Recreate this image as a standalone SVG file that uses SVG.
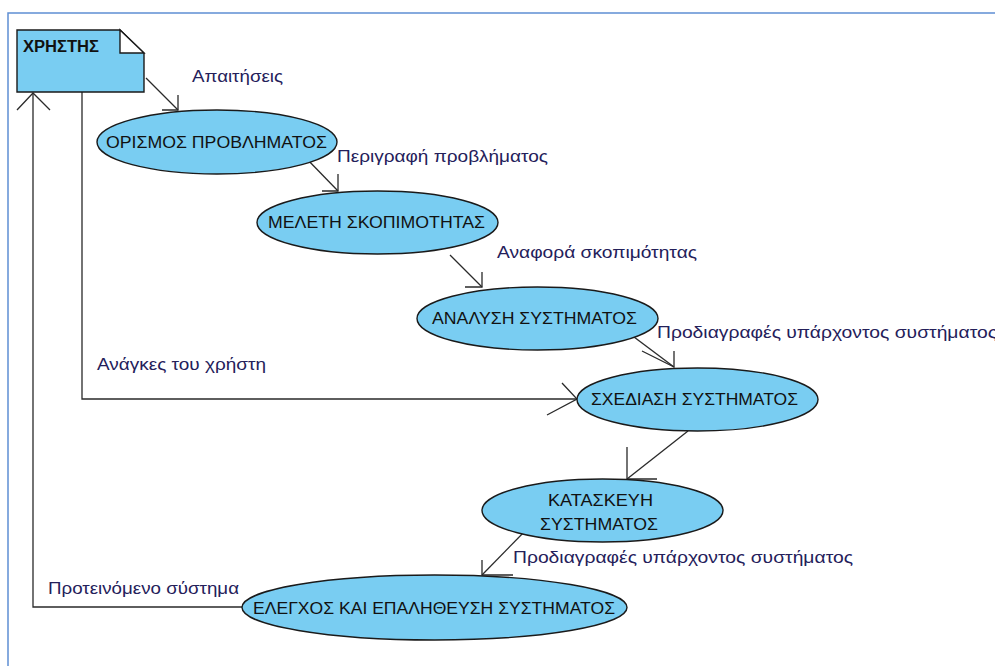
<svg xmlns="http://www.w3.org/2000/svg" width="995" height="666" viewBox="0 0 995 666">
<style>
.frame{fill:none;stroke:#5f8fd3;stroke-width:1.5}
.node{fill:#79cdf2;stroke:#1a1a1a;stroke-width:1.4}
.fold{fill:#ffffff;stroke:#1a1a1a;stroke-width:1.4}
.conn{fill:none;stroke:#2a2a2a;stroke-width:1.3}
.nt{font-family:"Liberation Sans",Arial,sans-serif;font-size:16px;fill:#111;text-anchor:middle}
.bt{font-family:"Liberation Sans",Arial,sans-serif;font-size:16px;font-weight:bold;fill:#111}
.lbl{font-family:"Liberation Sans",Arial,sans-serif;font-size:16px;fill:#24205a}
</style>
<rect width="995" height="666" fill="#ffffff"/>
<rect class="frame" x="8" y="13" width="1000" height="700"/>
<g id="connectors">
  <g id="c1"><path class="conn" d="M146,78 L178,110"/><path class="conn" d="M178,95 L178,110 L162,110"/></g>
  <g id="c2"><path class="conn" d="M305,157 L338,191"/><path class="conn" d="M338,174 L338,191 L322,191"/></g>
  <g id="c3"><path class="conn" d="M450,255 L482,287"/><path class="conn" d="M482,272 L482,287 L465,287"/></g>
  <g id="c4"><path class="conn" d="M630,334 L674,367"/><path class="conn" d="M674,351 L674,367 L642,351"/></g>
  <g id="c5"><path class="conn" d="M82,92 L82,399 L577,399"/><path class="conn" d="M562,383 L577,399 L547,415"/></g>
  <g id="c6"><path class="conn" d="M688,431 L627,479"/><path class="conn" d="M627,447 L627,479 L657,479"/></g>
  <g id="c7"><path class="conn" d="M528,528 L482,575"/><path class="conn" d="M482,560 L482,575 L513,575"/></g>
  <g id="c8"><path class="conn" d="M242,607 L33,607 L33,93"/><path class="conn" d="M17,110 L33,93 L50,110"/></g>
</g>
<g id="n-xristis">
  <path class="node" d="M17,30 L120,30 L144,53 L144,92 L17,92 Z"/>
  <path class="fold" d="M120,30 L120,53 L144,53 Z"/>
  <text class="bt" x="23" y="52" textLength="76" lengthAdjust="spacingAndGlyphs">ΧΡΗΣΤΗΣ</text>
</g>
<g id="n-orismos">
  <ellipse class="node" cx="217" cy="142" rx="120" ry="32"/>
  <text class="nt" x="216.5" y="148" textLength="221" lengthAdjust="spacingAndGlyphs">ΟΡΙΣΜΟΣ ΠΡΟΒΛΗΜΑΤΟΣ</text>
</g>
<g id="n-meleti">
  <ellipse class="node" cx="377.5" cy="222.5" rx="120.5" ry="31.5"/>
  <text class="nt" x="376.5" y="228" textLength="217" lengthAdjust="spacingAndGlyphs">ΜΕΛΕΤΗ ΣΚΟΠΙΜΟΤΗΤΑΣ</text>
</g>
<g id="n-analysi">
  <ellipse class="node" cx="537.5" cy="318.5" rx="120.5" ry="31.5"/>
  <text class="nt" x="534.5" y="324" textLength="205" lengthAdjust="spacingAndGlyphs">ΑΝΑΛΥΣΗ ΣΥΣΤΗΜΑΤΟΣ</text>
</g>
<g id="n-sxediasi">
  <ellipse class="node" cx="697.5" cy="399.5" rx="120.5" ry="31.5"/>
  <text class="nt" x="694.5" y="405" textLength="207" lengthAdjust="spacingAndGlyphs">ΣΧΕΔΙΑΣΗ ΣΥΣΤΗΜΑΤΟΣ</text>
</g>
<g id="n-kataskevi">
  <ellipse class="node" cx="602.5" cy="510.5" rx="120.5" ry="31.5"/>
  <text class="nt" x="600.5" y="506" textLength="105" lengthAdjust="spacingAndGlyphs">ΚΑΤΑΣΚΕΥΗ</text>
  <text class="nt" x="599" y="530" textLength="118" lengthAdjust="spacingAndGlyphs">ΣΥΣΤΗΜΑΤΟΣ</text>
</g>
<g id="n-elegxos">
  <ellipse class="node" cx="434.5" cy="607.5" rx="192.5" ry="32.5"/>
  <text class="nt" x="434" y="614" textLength="362" lengthAdjust="spacingAndGlyphs">ΕΛΕΓΧΟΣ ΚΑΙ ΕΠΑΛΗΘΕΥΣΗ ΣΥΣΤΗΜΑΤΟΣ</text>
</g>
<g id="labels">
  <text class="lbl" x="192" y="82" textLength="91" lengthAdjust="spacingAndGlyphs">Απαιτήσεις</text>
  <text class="lbl" x="337" y="162" textLength="211" lengthAdjust="spacingAndGlyphs">Περιγραφή προβλήματος</text>
  <text class="lbl" x="497" y="258" textLength="200" lengthAdjust="spacingAndGlyphs">Αναφορά σκοπιμότητας</text>
  <text class="lbl" x="657" y="338" textLength="340" lengthAdjust="spacingAndGlyphs">Προδιαγραφές υπάρχοντος συστήματος</text>
  <text class="lbl" x="97" y="370" textLength="169" lengthAdjust="spacingAndGlyphs">Ανάγκες του χρήστη</text>
  <text class="lbl" x="513" y="563" textLength="340" lengthAdjust="spacingAndGlyphs">Προδιαγραφές υπάρχοντος συστήματος</text>
  <text class="lbl" x="48" y="594" textLength="191" lengthAdjust="spacingAndGlyphs">Προτεινόμενο σύστημα</text>
</g>
</svg>
